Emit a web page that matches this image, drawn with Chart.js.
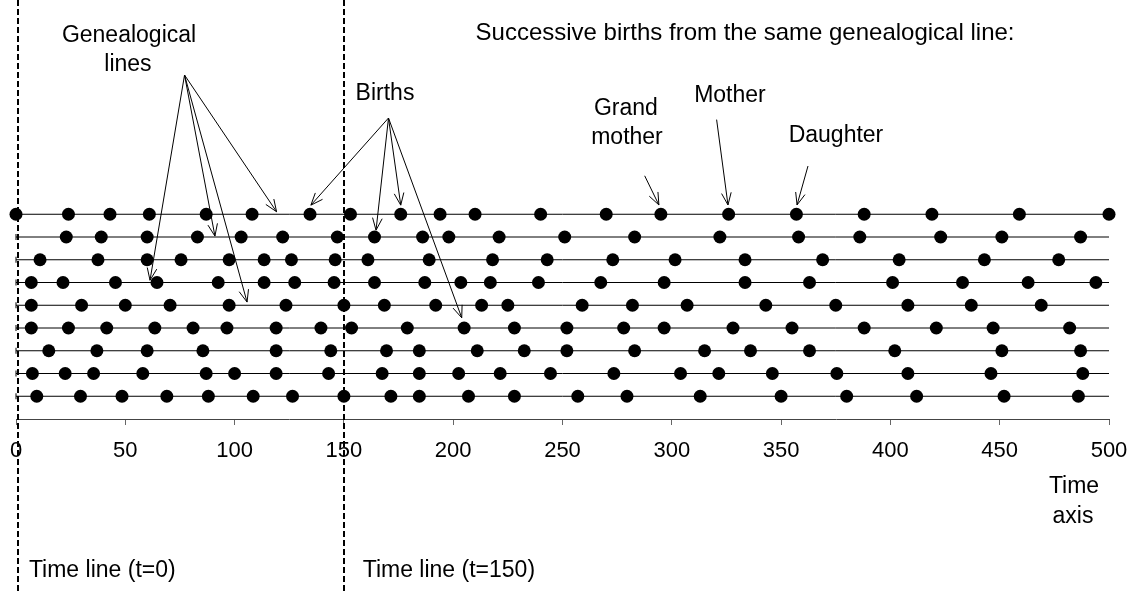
<!DOCTYPE html>
<html>
<head>
<meta charset="utf-8">
<title>Genealogical lines</title>
<script src="https://cdn.jsdelivr.net/npm/chart.js@4.4.1/dist/chart.umd.min.js"></script>
<style>
    body { margin: 0; background: #fff; }
    #wrap { width: 1136px; height: 591px; }
</style>
</head>
<body>
<div id="wrap"><canvas id="chart" width="1136" height="591"></canvas></div>
<script>
// Моменты рождений по каждой генеалогической линии (ось времени 0..500)
const births1 = [0, 24, 43, 61, 87, 108, 134.5, 153, 176, 194, 210, 240, 270, 295, 326, 357, 388, 419, 459, 500];
const births2 = [23, 39, 60, 83, 103, 122, 147, 164, 186, 198, 221, 251, 283, 322, 358, 386, 423, 451, 487];
const births3 = [11, 37.5, 60, 75.5, 97.5, 113.5, 126, 146, 161, 189, 218, 243, 273, 301.5, 333.5, 369, 404, 443, 477];
const births4 = [7, 21.5, 45.5, 64.5, 92.5, 113.5, 127.5, 145.5, 164, 187, 203.5, 217, 239, 267.5, 296.5, 333.5, 363, 401, 433, 463, 494];
const births5 = [7, 30, 50, 70.5, 97.5, 123.5, 150, 168.5, 192, 213, 225, 259, 282, 307, 343, 375, 408, 437, 469];
const births6 = [7, 24, 41.5, 63.5, 81, 96.5, 119, 139.5, 153.5, 179, 205, 228, 252, 278, 296.5, 328, 355, 388, 421, 447, 482];
const births7 = [15, 37, 60, 85.5, 119, 144, 169.5, 184.5, 211, 232.5, 252, 283, 315, 336, 363, 402, 451, 487];
const births8 = [7.5, 22.5, 35.5, 58, 87, 100, 119, 143, 167.5, 184.5, 202.5, 221.5, 244.5, 273.5, 304, 321.5, 346, 375.5, 408, 446, 488];
const births9 = [9.5, 29.5, 48.5, 69, 88, 108.5, 126.5, 150, 171.5, 184.5, 207, 228, 257, 279.5, 313, 350, 380, 412, 452, 486];

const allLines = [births1, births2, births3, births4, births5, births6, births7, births8, births9];
const lineLevels = [9, 8, 7, 6, 5, 4, 3, 2, 1];

// Ось времени
const timeTicks = [0, 50, 100, 150, 200, 250, 300, 350, 400, 450, 500];
const timeLines = [1, 150];

// Подписи: [текст, t, уровень, выравнивание]
const labels = [
    ["Genealogical", 51.7, 16.85, "center"],
    ["lines", 51.2, 15.56, "center"],
    ["Births", 168.8, 14.3, "center"],
    ["Successive births from the same genealogical line:", 333.5, 16.95, "center"],
    ["Grand", 279, 13.63, "center"],
    ["mother", 279.5, 12.35, "center"],
    ["Mother", 326.6, 14.2, "center"],
    ["Daughter", 375.1, 12.44, "center"],
    ["Time", 484, -2.99, "center"],
    ["axis", 483.5, -4.31, "center"],
    ["Time line (t=0)", 5.9, -6.68, "left"],
    ["Time line (t=150)", 158.6, -6.68, "left"]
];

// Стрелки: [t0, y0, t1, y1]
const arrows = [
    [77.1, 15.12, 61.3, 6.1],
    [77.1, 15.12, 91.0, 8.04],
    [77.1, 15.12, 105.7, 5.14],
    [77.1, 15.12, 119.2, 9.11],
    [170.4, 13.23, 134.9, 9.4],
    [170.4, 13.23, 164.7, 8.3],
    [170.4, 13.23, 176.0, 9.4],
    [170.4, 13.23, 203.9, 4.45],
    [287.6, 10.69, 294.1, 9.41],
    [320.5, 13.16, 325.7, 9.41],
    [362.3, 11.12, 357.3, 9.41]
];

const FONT = "'Liberation Sans', Arial, sans-serif";
Chart.defaults.font.family = FONT;
Chart.defaults.color = "#000";

// Собираем наборы данных
const datasets = [];
allLines.forEach((line, i) => {
    const lvl = lineLevels[i];
    datasets.push({
        type: "line",
        data: [{ x: 0, y: lvl }, { x: 500, y: lvl }],
        borderColor: "#000",
        borderWidth: 1,
        pointStyle: "line",
        rotation: 90,
        pointRadius: [3, 0],
        pointBorderColor: "#000",
        pointBorderWidth: 1,
        clip: false,
        order: 2
    });
    datasets.push({
        type: "scatter",
        data: line.map(t => ({ x: t, y: lvl })),
        backgroundColor: "#000",
        borderWidth: 0,
        pointRadius: 6.5,
        pointHoverRadius: 6.5,
        clip: false,
        order: 1
    });
});

// Пунктирные линии времени
const timeLinesPlugin = {
    id: "timeLines",
    beforeDatasetsDraw(chart) {
        const ctx = chart.ctx;
        const xs = chart.scales.x;
        ctx.save();
        ctx.strokeStyle = "#000";
        ctx.lineWidth = 2;
        ctx.setLineDash([6, 3]);
        timeLines.forEach(t => {
            const px = Math.round(xs.getPixelForValue(t));
            ctx.beginPath();
            ctx.moveTo(px, 0);
            ctx.lineTo(px, chart.height);
            ctx.stroke();
        });
        ctx.restore();
    }
};

// Подписи и стрелки
const notesPlugin = {
    id: "notes",
    afterDatasetsDraw(chart) {
        const ctx = chart.ctx;
        const xs = chart.scales.x;
        const ys = chart.scales.y;
        ctx.save();
        ctx.strokeStyle = "#000";
        ctx.lineWidth = 1;
        arrows.forEach(a => {
            const x0 = xs.getPixelForValue(a[0]), y0 = ys.getPixelForValue(a[1]);
            const x1 = xs.getPixelForValue(a[2]), y1 = ys.getPixelForValue(a[3]);
            ctx.beginPath();
            ctx.moveTo(x0, y0);
            ctx.lineTo(x1, y1);
            const ang = Math.atan2(y1 - y0, x1 - x0);
            const len = 13, spread = 0.38;
            ctx.moveTo(x1 - len * Math.cos(ang - spread), y1 - len * Math.sin(ang - spread));
            ctx.lineTo(x1, y1);
            ctx.lineTo(x1 - len * Math.cos(ang + spread), y1 - len * Math.sin(ang + spread));
            ctx.stroke();
        });
        ctx.fillStyle = "#000";
        ctx.textBaseline = "middle";
        labels.forEach(l => {
            ctx.font = (l[0].length > 30 ? 24 : 23) + "px " + FONT;
            ctx.textAlign = l[3];
            ctx.fillText(l[0], xs.getPixelForValue(l[1]), ys.getPixelForValue(l[2]));
        });
        ctx.restore();
    }
};

new Chart(document.getElementById("chart"), {
    data: { datasets: datasets },
    options: {
        responsive: false,
        animation: false,
        devicePixelRatio: 1,
        layout: { padding: { left: 16, right: 27, top: 0, bottom: 0 }, autoPadding: false },
        plugins: { legend: { display: false }, tooltip: { enabled: false } },
        scales: {
            x: {
                type: "linear",
                min: 0,
                max: 500,
                afterFit(scale) {
                    scale.height = 172;
                    scale.paddingLeft = 0;
                    scale.paddingRight = 0;
                },
                afterBuildTicks(scale) { scale.ticks = timeTicks.map(v => ({ value: v })); },
                border: { color: "#444", width: 1 },
                grid: { drawOnChartArea: false, tickLength: 6, color: "#666" },
                ticks: { font: { size: 22 }, padding: 13, color: "#000", maxRotation: 0 }
            },
            y: {
                type: "linear",
                display: false,
                min: 0,
                max: 419 / 22.75
            }
        }
    },
    plugins: [timeLinesPlugin, notesPlugin]
});
</script>
</body>
</html>
